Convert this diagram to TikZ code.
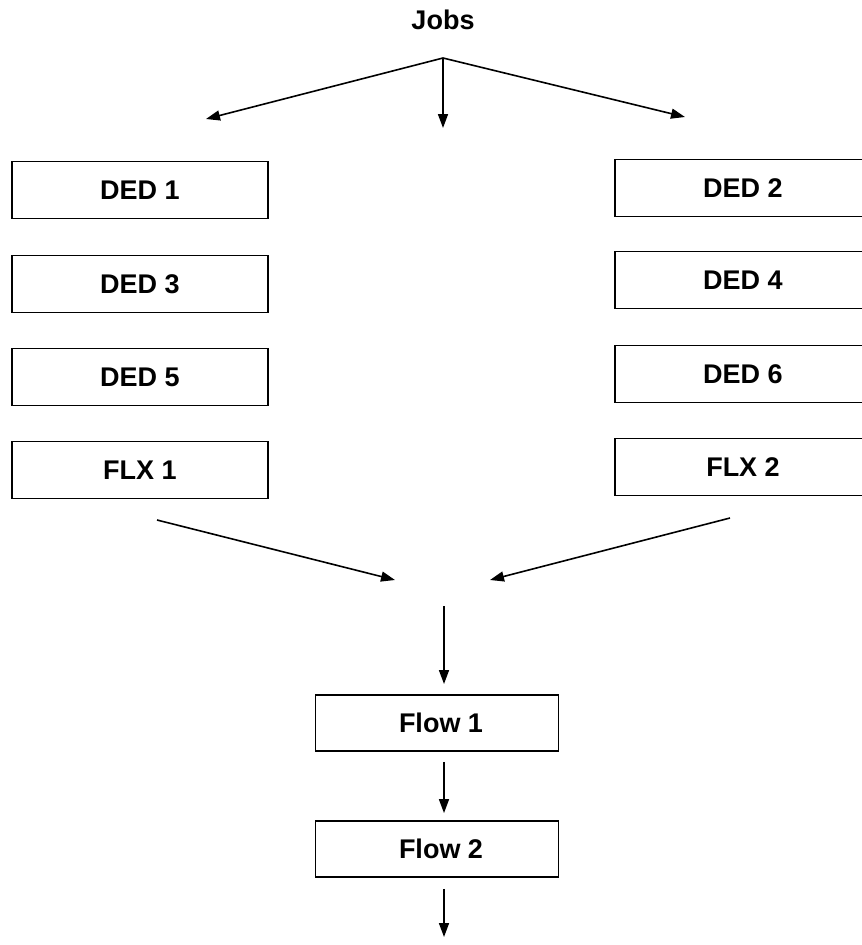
\documentclass[tikz,border=0pt]{standalone}
\usepackage{fontspec}
\setmainfont{Liberation Sans}
\usetikzlibrary{arrows.meta}
\tikzset{
  unitbox/.style={draw, line width=1.8pt, minimum width=256pt, minimum height=57pt,
    inner sep=0pt, font=\fontsize{27}{30}\selectfont\bfseries},
  flowarrow/.style={line width=1.6pt, -{Triangle[length=14pt,width=10pt]}},
  label/.style={font=\fontsize{27}{30}\selectfont\bfseries, inner sep=0pt}
}
\begin{document}
\begin{tikzpicture}[x=1pt,y=-1pt]
  \useasboundingbox (0,0) rectangle (862,945);

  % incoming jobs and the split into three directions
  \node[label] (jobs) at (443,20) {Jobs};
  \coordinate (apex) at (443,58);
  \coordinate (toleft) at (206,119);
  \coordinate (tomid) at (443,128);
  \coordinate (toright) at (685,117);
  \draw[flowarrow] (apex) -- (toleft);
  \draw[flowarrow] (apex) -- (tomid);
  \draw[flowarrow] (apex) -- (toright);

  % left column of units
  \node[unitbox] (ded1) at (140,190) {DED 1};
  \node[unitbox] (ded3) at (140,284) {DED 3};
  \node[unitbox] (ded5) at (140,377) {DED 5};
  \node[unitbox] (flx1) at (140,470) {FLX 1};

  % right column of units
  \node[unitbox] (ded2) at (743,188) {DED 2};
  \node[unitbox] (ded4) at (743,280) {DED 4};
  \node[unitbox] (ded6) at (743,374) {DED 6};
  \node[unitbox] (flx2) at (743,467) {FLX 2};

  % merging of the two columns
  \coordinate (lfrom) at (157,520);
  \coordinate (lto) at (395,580);
  \coordinate (rfrom) at (730,518);
  \coordinate (rto) at (490,580);
  \draw[flowarrow] (lfrom) -- (lto);
  \draw[flowarrow] (rfrom) -- (rto);

  % flow stages
  \node[unitbox, minimum width=243pt, minimum height=56pt] (flow1) at (437,723) {\hspace*{8pt}Flow 1};
  \node[unitbox, minimum width=243pt, minimum height=56pt] (flow2) at (437,849) {\hspace*{8pt}Flow 2};

  \coordinate (merge) at (444,606);
  \coordinate (out) at (444,937);
  \draw[flowarrow] (merge) -- (444,684);
  \draw[flowarrow] ([xshift=7pt,yshift=-10pt]flow1.south) -- ([xshift=7pt,yshift=7pt]flow2.north);
  \draw[flowarrow] ([xshift=7pt,yshift=-11pt]flow2.south) -- (out);
\end{tikzpicture}
\end{document}
